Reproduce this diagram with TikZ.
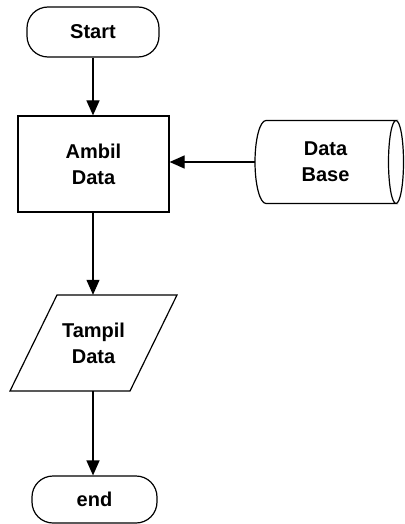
\documentclass[tikz,border=0pt]{standalone}
\usepackage{fontspec}
\setmainfont{Liberation Sans}
\usetikzlibrary{arrows.meta}
\tikzset{
  lbl/.style={font=\bfseries\fontsize{20}{26}\selectfont, align=center, inner sep=0pt},
  terminal/.style={lbl, draw, line width=1.2pt, rounded corners=21pt},
  process/.style={lbl, draw, line width=1.2pt},
  flow/.style={line width=1.2pt, -{Triangle[length=15pt,width=13pt]}},
  outline/.style={line width=1.2pt}
}
\begin{document}
\begin{tikzpicture}[x=1pt,y=-1pt]
\useasboundingbox (0,0) rectangle (404,524);
\clip (0,0) rectangle (404,524);

% terminals and process box
\node[terminal, minimum width=132pt, minimum height=50pt] (start) at (93,32) {Start};
\node[process, minimum width=151pt, minimum height=96pt] (ambil) at (93.5,164) {Ambil\\Data};
\node[terminal, minimum width=125pt, minimum height=47pt] (end) at (94.5,499.5) {end};

% data base (horizontal cylinder); y axis points down, so angles are mirrored
\node[lbl, minimum width=141pt, minimum height=83pt] (db) at (325.5,162) {Data\\Base};
\draw[outline] (266,120.5) -- (396,120.5)
  arc[start angle=270, end angle=90, x radius=7.5, y radius=41.5]
  -- (266,203.5)
  arc[start angle=90, end angle=270, x radius=11, y radius=41.5] -- cycle;
\draw[outline] (396,120.5) arc[start angle=-90, end angle=90, x radius=7.5, y radius=41.5];

% output (parallelogram)
\node[lbl, minimum width=120pt, minimum height=96pt] (tampil) at (93.5,343) {Tampil\\Data};
\draw[outline] (57,295) -- (177,295) -- (130,391) -- (10,391) -- cycle;

% connectors
\draw[flow] (start.south) -- (ambil.north -| start.south);
\draw[flow] (db.west) -- (ambil.east |- db.west);
\draw[flow] (ambil.south -| start.south) -- (tampil.north -| start.south);
\draw[flow] (tampil.south -| start.south) -- (end.north -| start.south);
\end{tikzpicture}
\end{document}
